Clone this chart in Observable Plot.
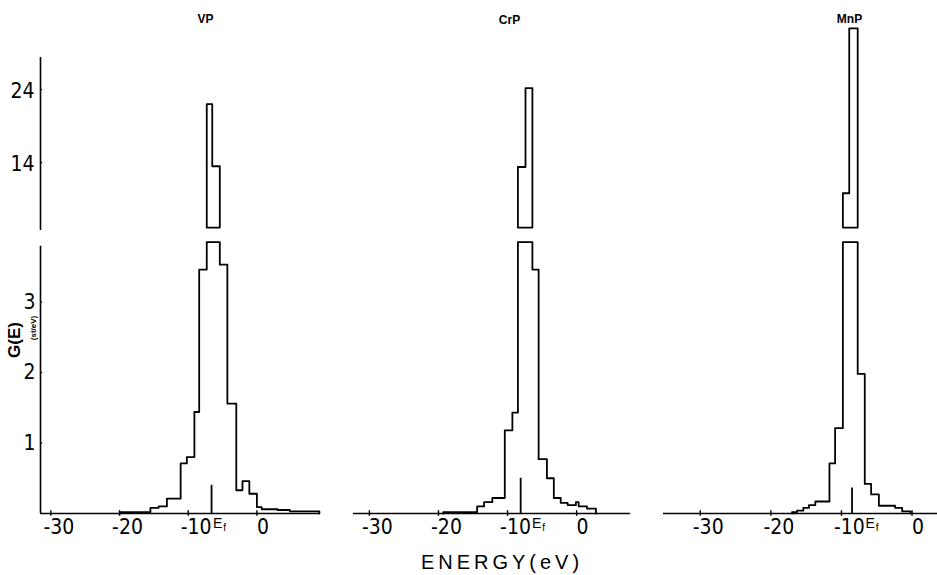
<!DOCTYPE html>
<html><head><meta charset="utf-8">
<script src="https://cdn.jsdelivr.net/npm/d3@7"></script>
<script src="https://cdn.jsdelivr.net/npm/@observablehq/plot@0.6"></script>
<style>
body{margin:0;background:#fff;}
#wrap{position:relative;width:937px;height:575px;overflow:hidden;background:#fff;}
#wrap svg{position:absolute;left:0;top:0;}
.title{position:absolute;font:bold 12px "Liberation Sans",Arial,sans-serif;transform:translate(-50%,-50%);color:#000;line-height:1;}
.lab{position:absolute;color:#000;white-space:nowrap;line-height:1;}
</style></head>
<body><div id="wrap"></div>
<script>
// ---------------- data ----------------
const compounds = ["VP", "CrP", "MnP"];

// bin edges (eV) and G(E) values per bin
const vpEdges  = [-19.9, -15.5, -14.3, -13.1, -11.1, -10.2, -9.1, -8.4, -7.3, -6.5, -5.4, -4.3, -3.0, -2.1, -1.1, 0.0, 0.7, 3.0, 4.8, 9.1];
const vpValues = [0.02, 0.08, 0.10, 0.21, 0.71, 0.80, 1.44, 3.46, 22.0, 13.5, 3.53, 1.56, 0.33, 0.46, 0.28, 0.09, 0.06, 0.05, 0.03];

const crpEdges  = [-19.3, -14.4, -13.4, -12.2, -10.4, -9.3, -8.5, -7.4, -6.4, -5.5, -4.3, -3.3, -2.3, -1.3, -0.1, 0.3, 1.5, 2.8];
const crpValues = [0.02, 0.10, 0.16, 0.22, 1.18, 1.43, 13.4, 24.2, 3.46, 0.77, 0.50, 0.22, 0.15, 0.12, 0.16, 0.10, 0.07];

const mnpEdges  = [-17.0, -16.3, -15.4, -14.6, -13.7, -11.7, -10.9, -9.8, -8.9, -7.7, -6.7, -5.8, -4.7, -2.4, -1.4, -0.2];
const mnpValues = [0.02, 0.04, 0.08, 0.12, 0.17, 0.71, 1.21, 9.8, 32.4, 1.98, 0.42, 0.27, 0.11, 0.08, 0.03];

// Fermi level position (eV) and marker height
const fermiEnergy = [-6.6, -8.1, -8.5];
const fermiMarkHeight = [0.40, 0.50, 0.36];

// tick values
const xTicks = [-30, -20, -10, 0];
const lowerTicks = [1, 2, 3];
const upperTicks = [14, 24];

// axis break ranges
const lowerDomain = [0, 3.85];
const upperDomain = [4.7, 28.4];
const upperBarBase = 5.1;

// ---------------- layout ----------------
const W = 937, H = 575;
const baseline = 513, lowerTop = 241.6, upperTop = 57, upperBottom = 230;
const layout = [
  {xDomain: [-31.5, 9.2], left: 40, right: 319.6, eDx: 6, title: [205.5, 19]},
  {xDomain: [-32.3, 7.8], left: 353, right: 630, eDx: 16, title: [509.5, 20]},
  {xDomain: [-35.2, 3.6], left: 663, right: 937, eDx: 18, title: [849.5, 19]}
];
const series = [[vpEdges, vpValues], [crpEdges, crpValues], [mnpEdges, mnpValues]];
const font = '"DejaVu Sans Condensed","Liberation Sans Narrow","Liberation Sans",sans-serif';
const SW = 1.8;

function lowerPoints(edges, values, cap) {
  const pts = [{x: edges[0], y: 0}];
  values.forEach((v, i) => pts.push({x: edges[i], y: Math.min(v, cap)}));
  pts.push({x: edges[edges.length - 1], y: Math.min(values[values.length - 1], cap)});
  pts.push({x: edges[edges.length - 1], y: 0});
  return pts;
}
function upperPoints(edges, values, floor, base) {
  const idx = values.map((v, i) => i).filter(i => values[i] > floor);
  const i0 = idx[0], i1 = idx[idx.length - 1];
  const pts = [{x: edges[i0], y: base}];
  for (const i of idx) pts.push({x: edges[i], y: values[i]});
  pts.push({x: edges[i1 + 1], y: values[i1]});
  pts.push({x: edges[i1 + 1], y: base});
  pts.push({x: edges[i0], y: base});
  return pts;
}

const wrap = document.getElementById("wrap");
const style = {background: "transparent", overflow: "visible", fontFamily: font, fontSize: "21px", color: "black"};

compounds.forEach((name, k) => {
  const L = layout[k];
  const [edges, values] = series[k];
  const xmin = L.xDomain[0];

  // lower part of the broken axis
  const lowerMarks = [
    Plot.ruleY([0], {strokeWidth: 1.6}),
    Plot.ruleX(xTicks, {x: d => d, y1: -0.04, y2: 0.04, strokeWidth: 1.4}),
    Plot.text(xTicks.filter(d => d < 0), {x: d => d, y: 0, text: d => String(d), dy: 14, dx: 8, fontSize: 21}),
    Plot.text(xTicks.filter(d => d >= 0), {x: d => d, y: 0, text: d => String(d), dy: 14, dx: 6, fontSize: 21}),
    Plot.line(lowerPoints(edges, values, lowerDomain[1]), {x: "x", y: "y", curve: "step-after", strokeWidth: SW}),
    Plot.ruleX([fermiEnergy[k]], {x: d => d, y1: 0, y2: fermiMarkHeight[k], strokeWidth: SW}),
    Plot.text([fermiEnergy[k]], {x: d => d, y: 0, text: () => "E", dx: L.eDx, dy: 10, fontSize: 14, fontFamily: '"Liberation Sans",sans-serif'}),
    Plot.text([fermiEnergy[k]], {x: d => d, y: 0, text: () => "f", dx: L.eDx + 7, dy: 14, fontSize: 10, fontFamily: '"Liberation Sans",sans-serif'})
  ];
  if (k === 0) {
    lowerMarks.push(
      Plot.ruleX([xmin], {x: d => d, y1: 0, y2: 3.79, strokeWidth: 1.6}),
      Plot.ruleY(lowerTicks, {y: d => d, x1: xmin, x2: xmin + 0.3, strokeWidth: 1.4}),
      Plot.text(lowerTicks, {x: xmin, y: d => d, text: d => String(d), textAnchor: "end", dx: -5, fontSize: 21})
    );
  }
  wrap.appendChild(Plot.plot({
    width: W, height: H,
    marginLeft: L.left, marginRight: W - L.right,
    marginTop: lowerTop, marginBottom: H - baseline,
    x: {domain: L.xDomain, axis: null},
    y: {domain: lowerDomain, axis: null},
    style,
    marks: lowerMarks
  }));

  // upper part of the broken axis
  const upperMarks = [
    Plot.line(upperPoints(edges, values, upperDomain[0], upperBarBase), {x: "x", y: "y", curve: "step-after", strokeWidth: SW})
  ];
  if (k === 0) {
    upperMarks.push(
      Plot.ruleX([xmin], {x: d => d, y1: upperDomain[0], y2: upperDomain[1], strokeWidth: 1.6}),
      Plot.ruleY(upperTicks, {y: d => d, x1: xmin, x2: xmin + 0.3, strokeWidth: 1.4}),
      Plot.text(upperTicks, {x: xmin, y: d => d, text: d => String(d), textAnchor: "end", dx: -6, dy: 2, fontSize: 21})
    );
  }
  wrap.appendChild(Plot.plot({
    width: W, height: H,
    marginLeft: L.left, marginRight: W - L.right,
    marginTop: upperTop, marginBottom: H - upperBottom,
    x: {domain: L.xDomain, axis: null},
    y: {domain: upperDomain, axis: null},
    style,
    marks: upperMarks
  }));

  const t = document.createElement("div");
  t.className = "title";
  t.style.left = L.title[0] + "px";
  t.style.top = L.title[1] + "px";
  t.textContent = name;
  wrap.appendChild(t);
});

// axis titles
const xl = document.createElement("div");
xl.className = "lab";
xl.style.cssText = "left:502px;top:562px;transform:translate(-50%,-50%);font:20px 'Liberation Sans',sans-serif;letter-spacing:4px;";
xl.textContent = "ENERGY(eV)";
wrap.appendChild(xl);

const yl = document.createElement("div");
yl.className = "lab";
yl.style.cssText = "left:15px;top:340px;transform:translate(-50%,-50%) rotate(-90deg);font:bold 17px 'Liberation Sans',sans-serif;";
yl.textContent = "G(E)";
wrap.appendChild(yl);

const ys = document.createElement("div");
ys.className = "lab";
ys.style.cssText = "left:33px;top:328px;transform:translate(-50%,-50%) rotate(-90deg);font:bold 8px 'Liberation Sans',sans-serif;";
ys.textContent = "(st/eV)";
wrap.appendChild(ys);
</script>
</body></html>
